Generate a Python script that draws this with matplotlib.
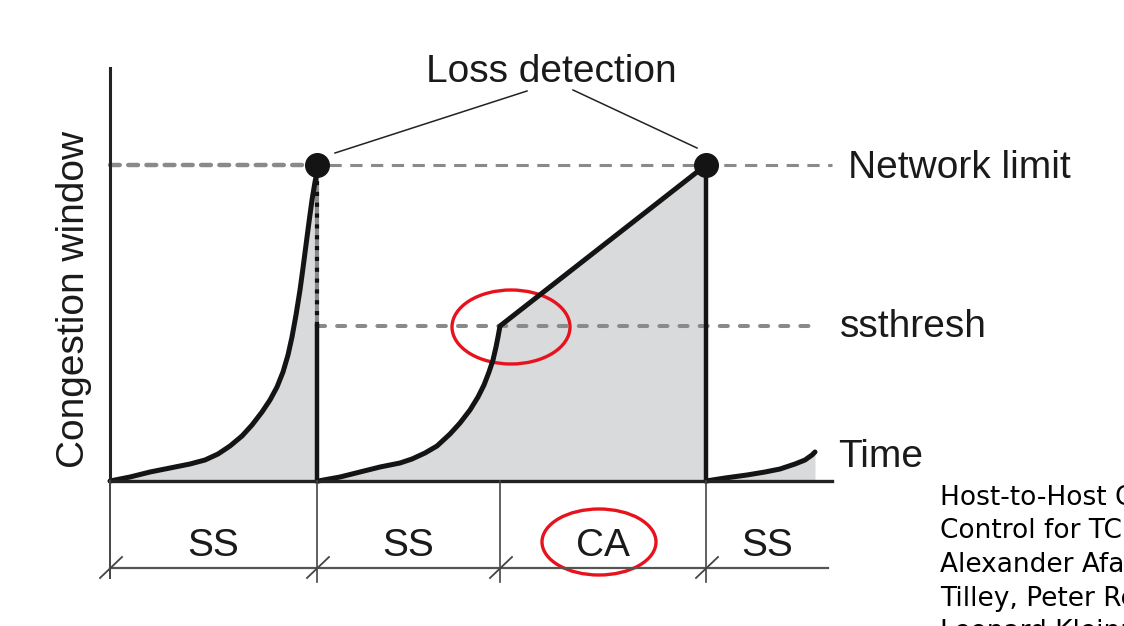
import numpy as np
import matplotlib.pyplot as plt
from matplotlib.patches import Ellipse

# sawtooth of the congestion window (time, cwnd), arbitrary units
ss1_t = [0, 20, 40, 60, 80, 95, 108, 120, 132, 142, 152, 160, 167, 173,
         178, 182, 186, 190, 193, 196, 199, 202, 205, 207]
ss1_w = [0, 4, 9, 13, 17, 21, 27, 35, 45, 56, 69, 81, 94, 109,
         126, 144, 166, 191, 213, 236, 259, 281, 299, 309]
ss2_t = [207, 208, 230, 250, 270, 290, 302, 315, 327, 340, 350, 360, 368,
         374, 379, 383, 386, 388, 390]
ss2_w = [0, 0, 4, 9, 14, 18, 22, 28, 35, 47, 58, 71, 84,
         96, 109, 121, 134, 144, 155]
ca_t = [390, 596]
ca_w = [155, 316]
ss3_t = [596, 615, 637, 655, 670, 685, 695, 702, 705]
ss3_w = [0, 3, 6, 9, 12, 17, 21, 26, 29]

network_limit = 316
ssthresh = 155
loss_times = [207, 596]
t_end = 722

# phase table under the time axis
phase_edges = [0, 207, 390, 596, 718]
phase_labels = ['SS', 'SS', 'CA', 'SS']

ref_lines = ['Host-to-Host Congestion', 'Control for TCP',
             'Alexander Afanasyev, Neil', 'Tilley, Peter Reiher, and',
             'Leonard Kleinrock']

font = 'Liberation Sans'
fs = 28
gray = '#8a8a8a'
fill_c = '#d9dadc'
red = '#e8121c'

fig = plt.figure(figsize=(11.24, 6.26), dpi=100)
ax = fig.add_axes([0, 0, 1, 1])
ax.set_xlim(-110, 1014)
ax.set_ylim(-145, 481)
ax.axis('off')

# shaded area under the window
ax.fill_between(ss1_t, ss1_w, 0, color=fill_c, lw=0)
ax.fill_between(ss2_t + ca_t, ss2_w + ca_w, 0, color=fill_c, lw=0)
ax.fill_between(ss3_t, ss3_w, 0, color=fill_c, lw=0)

# guide lines
ax.plot([0, loss_times[0]], [network_limit] * 2, color=gray, lw=3.2,
        ls=(0, (2.2, 1.9)), dash_capstyle='round')
ax.plot([loss_times[0] + 12, t_end], [network_limit] * 2, color=gray, lw=2.2,
        ls=(0, (4, 2.8)))
ax.plot([loss_times[0], 700], [ssthresh] * 2, color=gray, lw=2.9,
        ls=(0, (2, 3)), dash_capstyle='round')
ax.plot([loss_times[0]] * 2, [ssthresh, network_limit], color=gray, lw=3)
ax.plot([loss_times[0]] * 2, [ssthresh, network_limit - 10], color='#111111',
        lw=3, ls=(0, (1, 1.6)))

# window curve
lk = dict(color='#141414', lw=3.6, solid_capstyle='round', solid_joinstyle='round')
ax.plot(ss1_t, ss1_w, **lk)
ax.plot(ss2_t + ca_t, ss2_w + ca_w, **lk)
ax.plot(ss3_t, ss3_w, **lk)
ax.plot([loss_times[0]] * 2, [0, ssthresh], color='#141414', lw=3.2)
ax.plot([loss_times[1]] * 2, [0, network_limit], color='#141414', lw=3.2)
ax.plot(loss_times, [network_limit] * 2, 'o', color='#141414', ms=17)

# axes
ax.plot([0, 0], [413, 0], color='#222222', lw=2.2)
ax.plot([0, t_end], [0, 0], color='#222222', lw=2.4)

# phase table
ax.plot([0, 0], [0, -97], color='#444444', lw=1.4)
for e in phase_edges[1:-1]:
    ax.plot([e, e], [0, -101], color='#444444', lw=1.2)
ax.plot([phase_edges[0], phase_edges[-1]], [-87, -87], color='#555555', lw=1.6)
for e in phase_edges[:-1]:
    ax.plot([e - 10, e + 12], [-97, -76], color='#444444', lw=1.3)
for a, b, lab in zip(phase_edges[:-1], phase_edges[1:], phase_labels):
    ax.text((a + b) / 2, -75, lab, ha='center', va='baseline',
            family=font, fontsize=fs, color='#1a1a1a')

# labels
ax.text(441, 399, 'Loss detection', ha='center', va='baseline',
        family=font, fontsize=fs, color='#1a1a1a')
ax.plot([225, 417], [328, 390], color='#222222', lw=1.1)
ax.plot([463, 587], [391, 333], color='#222222', lw=1.1)
ax.text(738, network_limit - 13, 'Network limit', va='baseline',
        family=font, fontsize=fs, color='#1a1a1a')
ax.text(730, ssthresh - 11, 'ssthresh', va='baseline',
        family=font, fontsize=fs, color='#1a1a1a')
ax.text(728, 14, 'Time', va='baseline', family=font, fontsize=fs, color='#1a1a1a')
ax.text(-36, 182, 'Congestion window', rotation=90, ha='center', va='center',
        family=font, fontsize=fs, color='#1a1a1a')

# red highlight ellipses
ax.add_patch(Ellipse((401, 154), 118, 74, fill=False, ec=red, lw=2.4))
ax.add_patch(Ellipse((489, -61), 114, 66, fill=False, ec=red, lw=2.4))

# reference caption, cut off by the right edge as in the source
for i, s in enumerate(ref_lines):
    ax.text(830, -24 - 33.5 * i, s, va='baseline', family='DejaVu Sans',
            fontsize=19, color='black', clip_on=False)

fig.savefig('out.png', dpi=100)
